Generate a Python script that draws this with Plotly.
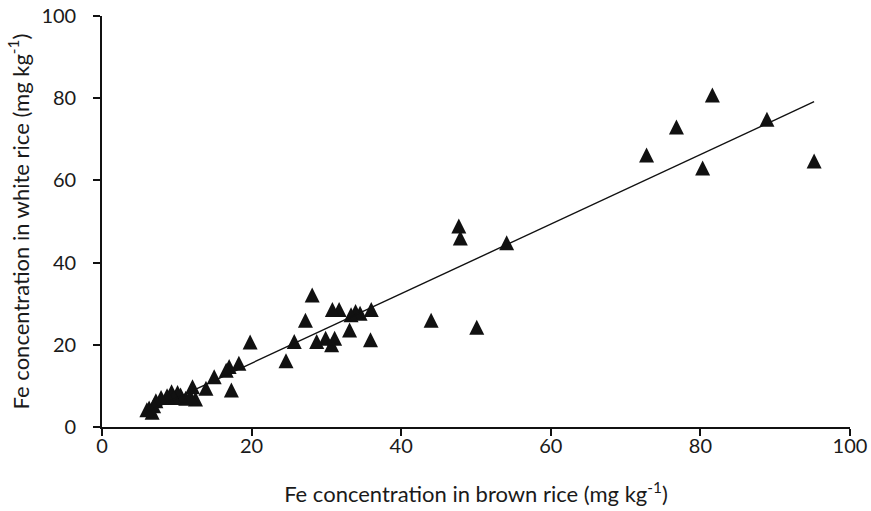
import plotly.graph_objects as go

# Fe concentration in brown rice (x) vs white rice (y), mg/kg
brown_fe = [95.2, 88.9, 81.6, 80.3, 76.8, 72.8,
            54.1, 47.7, 47.9, 50.1, 44.0,
            36.0, 35.9, 34.5, 33.9, 33.3, 33.1, 31.7, 30.8, 31.1, 30.7, 29.9, 28.7, 28.1, 27.2, 25.7, 24.6,
            19.8, 18.3, 17.0, 16.6, 17.3, 15.0, 13.9, 12.1, 12.5, 11.2, 11.8, 10.5, 10.1, 9.3, 9.6, 8.7,
            7.9, 7.2, 6.9, 6.3, 6.7, 6.0]
white_fe = [64.7, 74.9, 80.8, 63.0, 73.0, 66.2,
            44.8, 48.9, 46.0, 24.3, 26.0,
            28.6, 21.2, 27.7, 28.1, 27.3, 23.6, 28.6, 28.6, 21.6, 20.0, 21.6, 20.8, 32.1, 26.0, 20.8, 16.1,
            20.7, 15.5, 14.7, 13.8, 9.0, 12.2, 9.4, 9.8, 6.8, 7.0, 7.4, 7.8, 8.4, 8.6, 7.2, 7.6,
            7.2, 6.4, 5.2, 4.6, 3.6, 4.2]

# linear trendline
trend_slope = 0.846
trend_intercept = -1.4

x_ticks = [0, 20, 40, 60, 80, 100]
y_ticks = [0, 20, 40, 60, 80, 100]

x0, x1 = min(brown_fe), max(brown_fe)
trend_x = [x0, x1]
trend_y = [trend_slope * v + trend_intercept for v in trend_x]

FONT = "Lato"
TXT = "#1a1a1a"

fig = go.Figure()
fig.add_trace(go.Scatter(
    x=brown_fe, y=white_fe, mode="markers",
    marker=dict(symbol="arrow-down", angle=180, size=15, standoff=7.5, color="#111111",
                line=dict(width=0)),
    showlegend=False, hoverinfo="x+y"))
fig.add_trace(go.Scatter(
    x=trend_x, y=trend_y, mode="lines",
    line=dict(color="#111111", width=1.4),
    showlegend=False, hoverinfo="skip"))

axis_common = dict(
    showgrid=False, zeroline=False, showline=True, linecolor="#111111", linewidth=1.6,
    ticks="outside", ticklen=7, tickwidth=1.6, tickcolor="#111111",
    tickfont=dict(family=FONT, size=20, color=TXT), automargin=False,
)
fig.update_layout(
    width=871, height=511,
    margin=dict(l=102, r=21, t=16, b=84),
    paper_bgcolor="white", plot_bgcolor="white",
    font=dict(family=FONT, color=TXT),
    xaxis=dict(range=[0, 100], tickvals=x_ticks, ticktext=[str(v) for v in x_ticks],
               ticklabelstandoff=-7,
               title=dict(text="Fe concentration in brown rice (mg kg<sup>-1</sup>)",
                          font=dict(family=FONT, size=22, color=TXT), standoff=31),
               **axis_common),
    yaxis=dict(range=[0, 100], tickvals=y_ticks, ticktext=[str(v) for v in y_ticks],
               ticklabelstandoff=13,
               title=dict(text="Fe concentration in white rice (mg kg<sup>-1</sup>)",
                          font=dict(family=FONT, size=22, color=TXT), standoff=6),
               **axis_common),
)
fig.write_html("out.html", config={"displayModeBar": False},
               post_script="document.body.style.margin='0';")
